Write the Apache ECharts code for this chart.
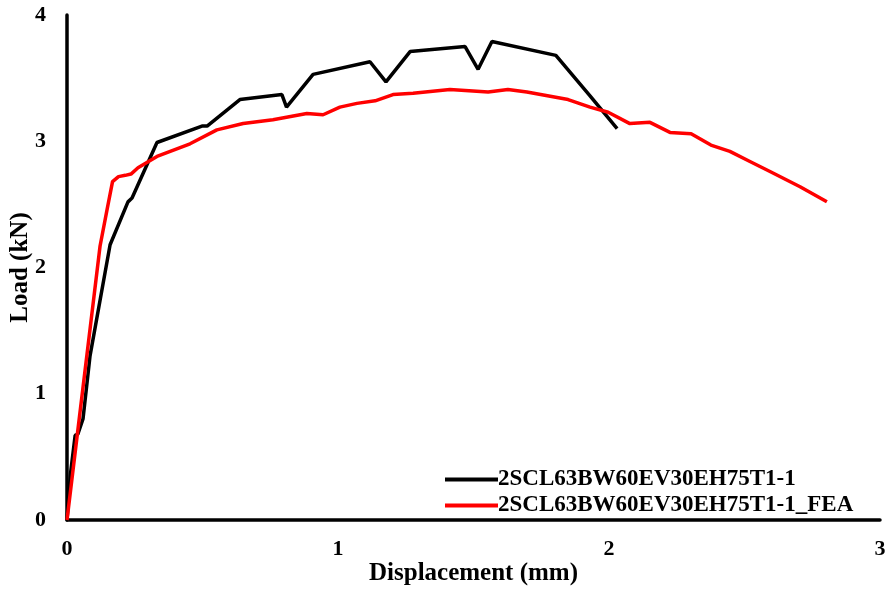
<!DOCTYPE html>
<html>
<head>
<meta charset="utf-8">
<script src="https://cdn.jsdelivr.net/npm/echarts@6/dist/echarts.min.js"></script>
<style>html,body{margin:0;padding:0;background:#fff}#c{width:888px;height:592px}</style>
</head>
<body>
<div id="c"></div>
<script>
const seriesNames = ['2SCL63BW60EV30EH75T1-1', '2SCL63BW60EV30EH75T1-1_FEA'];
const xTicks = [0, 1, 2, 3];
const yTicks = [0, 1, 2, 3, 4];
const testDisp = [0, 0.012, 0.03, 0.04, 0.059, 0.085, 0.159, 0.225, 0.24, 0.332, 0.498, 0.517, 0.638, 0.793, 0.81, 0.908, 1.118, 1.177, 1.266, 1.469, 1.517, 1.568, 1.804, 1.93, 2.03];
const testLoad = [0, 0.35, 0.67, 0.68, 0.80, 1.30, 2.18, 2.52, 2.55, 2.99, 3.12, 3.12, 3.33, 3.37, 3.27, 3.53, 3.63, 3.47, 3.71, 3.75, 3.57, 3.79, 3.68, 3.36, 3.10];
const feaDisp = [0, 0.122, 0.148, 0.168, 0.19, 0.215, 0.236, 0.262, 0.332, 0.454, 0.553, 0.65, 0.76, 0.885, 0.945, 1.007, 1.07, 1.137, 1.203, 1.277, 1.413, 1.554, 1.627, 1.697, 1.849, 1.93, 1.997, 2.077, 2.151, 2.225, 2.303, 2.376, 2.446, 2.52, 2.594, 2.705, 2.804];
const feaLoad = [0, 2.17, 2.46, 2.68, 2.72, 2.73, 2.74, 2.79, 2.88, 2.98, 3.09, 3.14, 3.17, 3.22, 3.21, 3.27, 3.30, 3.32, 3.37, 3.38, 3.41, 3.39, 3.41, 3.39, 3.33, 3.27, 3.23, 3.14, 3.15, 3.07, 3.06, 2.97, 2.92, 2.84, 2.76, 2.64, 2.52];

const font = 'Liberation Serif, Times New Roman, serif';
const lineIcon = 'path://M0,0 L53,0 L53,4 L0,4 Z';
const chart = echarts.init(document.getElementById('c'));
chart.setOption({
  animation: false,
  backgroundColor: '#fff',
  grid: { left: 67, right: 8, top: 15, bottom: 72, containLabel: false, outerBoundsMode: 'none' },
  xAxis: {
    type: 'value', min: xTicks[0], max: xTicks[xTicks.length - 1], interval: 1,
    name: 'Displacement (mm)', nameLocation: 'middle', nameGap: 41, nameMoveOverlap: false,
    nameTextStyle: { fontFamily: font, fontWeight: 'bold', fontSize: 25, color: '#000' },
    axisLine: { lineStyle: { color: '#000', width: 3.5 } },
    axisTick: { show: false }, splitLine: { show: false },
    axisLabel: { fontFamily: font, fontWeight: 'bold', fontSize: 22, color: '#000', margin: 18 }
  },
  yAxis: {
    type: 'value', min: yTicks[0], max: yTicks[yTicks.length - 1], interval: 1,
    name: 'Load (kN)', nameLocation: 'middle', nameGap: 34, nameMoveOverlap: false,
    nameTextStyle: { fontFamily: font, fontWeight: 'bold', fontSize: 25, color: '#000' },
    axisLine: { show: true, lineStyle: { color: '#000', width: 3.5 } },
    axisTick: { show: false }, splitLine: { show: false },
    axisLabel: { fontFamily: font, fontWeight: 'bold', fontSize: 22, color: '#000', margin: 21 }
  },
  legend: {
    orient: 'vertical', left: 440, top: 463, itemGap: 3,
    itemWidth: 53, itemHeight: 4,
    textStyle: { fontFamily: font, fontWeight: 'bold', fontSize: 23, color: '#000', padding: [0, 0, 0, -5], lineHeight: 22 },
    data: [{ name: seriesNames[0], icon: lineIcon }, { name: seriesNames[1], icon: lineIcon }]
  },
  series: [
    { name: seriesNames[0], type: 'line', symbol: 'none', data: testDisp.map((d, i) => [d, testLoad[i]]),
      lineStyle: { color: '#000', width: 3.5 }, itemStyle: { color: '#000' } },
    { name: seriesNames[1], type: 'line', symbol: 'none', data: feaDisp.map((d, i) => [d, feaLoad[i]]),
      lineStyle: { color: '#ff0000', width: 3.5 }, itemStyle: { color: '#ff0000' } }
  ]
});
</script>
</body>
</html>
